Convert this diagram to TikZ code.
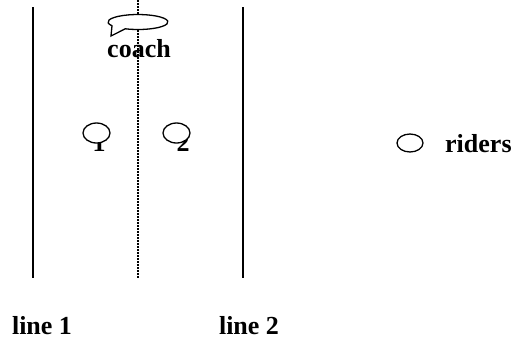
\documentclass[tikz,border=0pt]{standalone}
\usepackage{fontspec}
\setmainfont{Liberation Serif}
\usetikzlibrary{shapes.geometric,positioning}

\begin{document}
\begin{tikzpicture}[x=1pt, y=-1pt,
    txt/.style={anchor=base, inner sep=0pt, font=\fontsize{26}{30}\selectfont\bfseries},
    rider/.style={draw, line width=1.3pt, fill=white, ellipse, minimum width=27pt, minimum height=20pt, inner sep=0pt},
    lane/.style={line width=1.5pt},
    middle/.style={line width=1.2pt, dash pattern=on 1.5pt off 1.5pt}]
  \useasboundingbox (0,0) rectangle (514,341);

  % lines of the lane
  \coordinate (l1top) at (33,7);
  \coordinate (l1bot) at (33,278);
  \coordinate (l2top) at (243,7);
  \coordinate (l2bot) at (243,278);
  \coordinate (midtop) at (138,0);
  \coordinate (midbot) at (138,278);
  \draw [lane] (l1top) -- (l1bot);
  \draw [lane] (l2top) -- (l2bot);
  \draw [middle] (midtop) -- (midbot);

  % coach with speech bubble
  \draw [line width=1.3pt, fill=white] (125.3,28.8) -- (111,36) -- (112,25.75)
    arc [start angle=150, end angle=475, x radius=30, y radius=7.5] -- cycle;
  \node (coach) [txt] at (139,57) {coach};

  % the two riders
  \node (num1) [txt] at (99,151) {1};
  \node (rider1) [rider] at (96.5,133) {};
  \node (num2) [txt] at (183,151) {2};
  \node (rider2) [rider] at (176.5,133) {};

  % legend
  \node (legend) [rider, minimum width=26pt, minimum height=18pt] at (410,143) {};
  \node (riders) [txt, anchor=base west] at (445,152) {riders};

  \node (line1) [txt] at (42,334) {line 1};
  \node (line2) [txt] at (249,334) {line 2};
\end{tikzpicture}
\end{document}
